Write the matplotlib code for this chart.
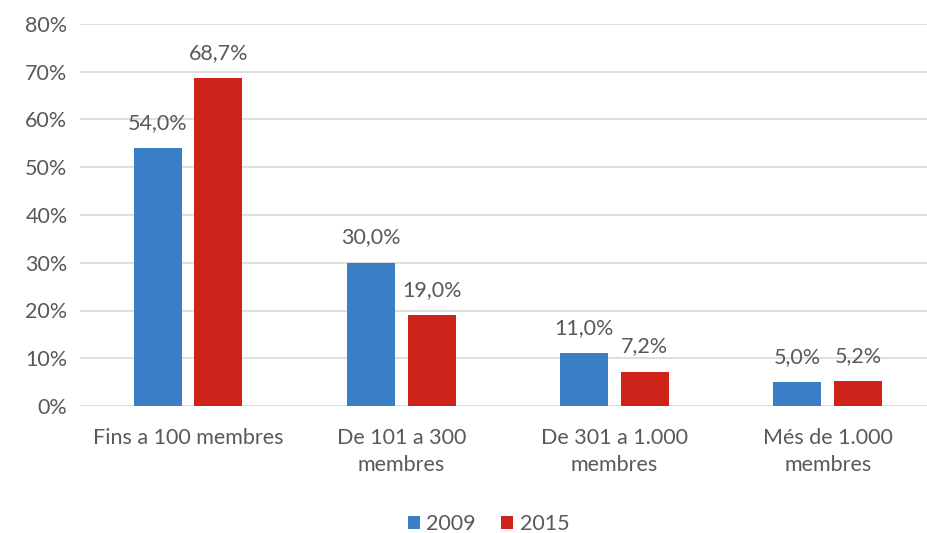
import matplotlib.pyplot as plt
from matplotlib.ticker import FuncFormatter

categories = ['Fins a 100 membres', 'De 101 a 300\nmembres', 'De 301 a 1.000\nmembres', 'Més de 1.000\nmembres']
v2009 = [54.0, 30.0, 11.0, 5.0]
v2015 = [68.7, 19.0, 7.2, 5.2]
years = ['2009', '2015']

blue = '#3A7FC5'
red = '#CD231B'
grey = '#595959'

plt.rcParams['font.family'] = ['Lato', 'DejaVu Sans']
fs = 15.5

fig = plt.figure(figsize=(9.27, 5.33), dpi=100)
ax = fig.add_axes([80/927, 127/533, 847/927, 382/533])

x = range(len(categories))
w = 0.225
off = 0.142
b1 = ax.bar([i - off for i in x], v2009, w, color=blue, label=years[0], zorder=2)
b2 = ax.bar([i + off for i in x], v2015, w, color=red, label=years[1], zorder=2)

for bars, vals in ((b1, v2009), (b2, v2015)):
    for r, v in zip(bars, vals):
        ax.annotate(('%.1f%%' % v).replace('.', ','), (r.get_x() + r.get_width()/2, v),
                    xytext=(0, 11), textcoords='offset points', ha='center', va='bottom',
                    fontsize=fs, color=grey)

ax.set_ylim(0, 80)
ax.set_xlim(-0.507, 3.466)
ax.set_yticks(range(0, 81, 10))
ax.yaxis.set_major_formatter(FuncFormatter(lambda v, p: '%d%%' % v))
ax.set_xticks(list(x))
ax.set_xticklabels(categories, linespacing=1.45)
ax.grid(axis='y', color='#D9D9D9', linewidth=1.2, zorder=0)
for s in ax.spines.values():
    s.set_visible(False)
ax.tick_params(length=0, labelsize=fs, labelcolor=grey)
ax.tick_params(axis='y', pad=9)
ax.tick_params(axis='x', pad=16)

fig.legend(loc='lower center', bbox_to_anchor=(0.527, -0.038), ncol=2, frameon=False,
           fontsize=fs, labelcolor=grey, handlelength=0.55, handleheight=0.55,
           handletextpad=0.3, columnspacing=1.2)

fig.savefig('out.png', dpi=100)
